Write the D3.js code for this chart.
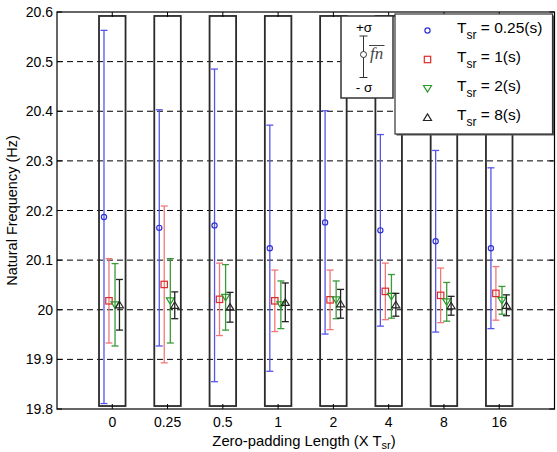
<!DOCTYPE html>
<html>
<head>
<meta charset="utf-8">
<script src="https://cdn.jsdelivr.net/npm/d3@7"></script>
<style>
  body { margin: 0; background: #fff; }
  svg { font-family: "Liberation Sans", Arial, sans-serif; }
</style>
</head>
<body>
<svg id="chart" width="557" height="452"></svg>
<script>
// categories on the x axis
const categories = ["0", "0.25", "0.5", "1", "2", "4", "8", "16"];
const yTicks = [19.8, 19.9, 20, 20.1, 20.2, 20.3, 20.4, 20.5, 20.6];

// series: mean and std per category
const seriesNames = ["0.25", "1", "2", "8"];
const blueMean  = [20.187, 20.165, 20.170, 20.124, 20.176, 20.160, 20.138, 20.124];
const blueStd   = [0.376, 0.238, 0.315, 0.248, 0.225, 0.193, 0.183, 0.162];
const redMean   = [20.018, 20.051, 20.021, 20.018, 20.020, 20.037, 20.029, 20.033];
const redStd    = [0.085, 0.158, 0.073, 0.062, 0.060, 0.057, 0.055, 0.054];
const greenMean = [20.010, 20.018, 20.025, 20.010, 20.020, 20.027, 20.016, 20.019];
const greenStd  = [0.083, 0.085, 0.066, 0.048, 0.038, 0.044, 0.039, 0.028];
const blackMean = [20.010, 20.009, 20.005, 20.015, 20.012, 20.010, 20.008, 20.009];
const blackStd  = [0.051, 0.027, 0.030, 0.039, 0.029, 0.023, 0.019, 0.021];

// group box extent (data units)
const boxLow = 19.806, boxHigh = 20.592;

const mLeft = 57, mRight = 554.5, mTop = 12, mBottom = 409;
const svg = d3.select("#chart");

const x = d3.scaleLinear().domain([0, categories.length + 1]).range([mLeft, mRight]);
const y = d3.scaleLinear().domain([19.8, 20.6]).range([mBottom, mTop]);

// grid
svg.append("g")
  .selectAll("line")
  .data(yTicks.slice(1, -1)).enter()
  .append("line")
  .attr("x1", mLeft).attr("x2", mRight)
  .attr("y1", d => y(d)).attr("y2", d => y(d))
  .attr("stroke", "#000")
  .attr("stroke-width", 1)
  .attr("stroke-dasharray", "6,4");

// group boxes
svg.append("g")
  .selectAll("rect")
  .data(categories).enter()
  .append("rect")
  .attr("x", (d, i) => x(i + 1 - 0.24))
  .attr("width", x(0.48) - x(0))
  .attr("y", y(boxHigh))
  .attr("height", y(boxLow) - y(boxHigh))
  .attr("fill", "none")
  .attr("stroke", "#2a2a2a")
  .attr("stroke-width", 1.8);

// series
const series = [
  { mean: blueMean,  std: blueStd,  off: -0.15, line: "#5555e8", mark: "#3030d8", shape: "circle" },
  { mean: redMean,   std: redStd,   off: -0.06, line: "#f07878", mark: "#e02828", shape: "square" },
  { mean: greenMean, std: greenStd, off: 0.05,  line: "#3a9a3a", mark: "#2a9a2a", shape: "down" },
  { mean: blackMean, std: blackStd, off: 0.13,  line: "#222",    mark: "#222",    shape: "up" }
];

function drawMarker(g, shape, cx, cy, color) {
  if (shape === "circle") {
    g.append("circle").attr("cx", cx).attr("cy", cy).attr("r", 2.6)
      .attr("fill", "none").attr("stroke", color).attr("stroke-width", 1.2);
  } else if (shape === "square") {
    g.append("rect").attr("x", cx - 3.2).attr("y", cy - 3.2).attr("width", 6.4).attr("height", 6.4)
      .attr("fill", "none").attr("stroke", color).attr("stroke-width", 1.2);
  } else if (shape === "down") {
    g.append("path").attr("d", `M${cx - 4},${cy - 3}L${cx + 4},${cy - 3}L${cx},${cy + 3.5}Z`)
      .attr("fill", "none").attr("stroke", color).attr("stroke-width", 1.2);
  } else {
    g.append("path").attr("d", `M${cx - 4},${cy + 3}L${cx + 4},${cy + 3}L${cx},${cy - 3.5}Z`)
      .attr("fill", "none").attr("stroke", color).attr("stroke-width", 1.2);
  }
}

series.forEach(s => {
  const g = svg.append("g");
  categories.forEach((c, i) => {
    const cx = x(i + 1 + s.off);
    const hi = y(s.mean[i] + s.std[i]), lo = y(s.mean[i] - s.std[i]);
    g.append("line").attr("x1", cx).attr("x2", cx).attr("y1", hi).attr("y2", lo)
      .attr("stroke", s.line).attr("stroke-width", 1.3);
    [hi, lo].forEach(yy => g.append("line")
      .attr("x1", cx - 3.5).attr("x2", cx + 3.5).attr("y1", yy).attr("y2", yy)
      .attr("stroke", s.line).attr("stroke-width", 1.3));
    drawMarker(g, s.shape, cx, y(s.mean[i]), s.mark);
  });
});

// axes frame
svg.append("rect")
  .attr("x", mLeft).attr("y", mTop)
  .attr("width", mRight - mLeft).attr("height", mBottom - mTop)
  .attr("fill", "none").attr("stroke", "#000").attr("stroke-width", 1.2);

// x ticks (bottom and top, inward)
const xt = svg.append("g");
categories.forEach((c, i) => {
  const px = x(i + 1);
  xt.append("line").attr("x1", px).attr("x2", px).attr("y1", mBottom).attr("y2", mBottom - 5).attr("stroke", "#000");
  xt.append("line").attr("x1", px).attr("x2", px).attr("y1", mTop).attr("y2", mTop + 5).attr("stroke", "#000");
  xt.append("text").attr("x", px).attr("y", mBottom + 18)
    .attr("text-anchor", "middle").attr("font-size", 14).text(c);
});

// y ticks
const yt = svg.append("g");
yTicks.forEach(v => {
  yt.append("line").attr("x1", mLeft).attr("x2", mLeft + 5).attr("y1", y(v)).attr("y2", y(v)).attr("stroke", "#000");
  yt.append("line").attr("x1", mRight).attr("x2", mRight - 5).attr("y1", y(v)).attr("y2", y(v)).attr("stroke", "#000");
  yt.append("text").attr("x", mLeft - 4).attr("y", y(v) + 5)
    .attr("text-anchor", "end").attr("font-size", 14).text(d3.format(".1f")(v).replace(/\.0$/, ""));
});

// axis labels
svg.append("text")
  .attr("transform", `translate(17,${(mTop + mBottom) / 2}) rotate(-90)`)
  .attr("text-anchor", "middle").attr("font-size", 14.5)
  .text("Natural Frequency (Hz)");

const xl = svg.append("text")
  .attr("x", 304).attr("y", 446)
  .attr("text-anchor", "middle").attr("font-size", 14.8);
xl.append("tspan").text("Zero-padding Length (X T");
xl.append("tspan").attr("font-size", 11).attr("dy", 3).text("sr");
xl.append("tspan").attr("dy", -3).text(")");

// sigma legend
const sl = svg.append("g");
sl.append("rect").attr("x", 341).attr("y", 16).attr("width", 52).attr("height", 82)
  .attr("fill", "#fff").attr("stroke", "#333").attr("stroke-width", 1.5);
sl.append("line").attr("x1", 363.5).attr("x2", 363.5).attr("y1", 36).attr("y2", 77.5).attr("stroke", "#333");
sl.append("line").attr("x1", 359.5).attr("x2", 367.5).attr("y1", 36).attr("y2", 36).attr("stroke", "#333");
sl.append("line").attr("x1", 359.5).attr("x2", 367.5).attr("y1", 77.5).attr("y2", 77.5).attr("stroke", "#333");
sl.append("circle").attr("cx", 363.5).attr("cy", 54.5).attr("r", 3).attr("fill", "#fff").attr("stroke", "#333");
sl.append("text").attr("x", 364).attr("y", 32).attr("text-anchor", "middle").attr("font-size", 13.5).text("+σ");
sl.append("text").attr("x", 364).attr("y", 92).attr("text-anchor", "middle").attr("font-size", 13.5).text("- σ");
sl.append("text").attr("x", 370).attr("y", 59).attr("font-size", 17)
  .attr("font-family", "'Liberation Serif', serif").attr("font-style", "italic").attr("fill", "#444").text("fn");
sl.append("line").attr("x1", 369).attr("x2", 384.5).attr("y1", 45.5).attr("y2", 45.5).attr("stroke", "#444");

// series legend
const lg = svg.append("g");
lg.append("rect").attr("x", 396.5).attr("y", 15.5).attr("width", 157.5).attr("height", 120).attr("fill", "#555");
lg.append("rect").attr("x", 395).attr("y", 14).attr("width", 157.5).attr("height", 120)
  .attr("fill", "#fff").attr("stroke", "#333").attr("stroke-width", 1.2);
seriesNames.forEach((n, i) => {
  const ry = 30.5 + i * 29;
  drawMarker(lg, series[i].shape, 427.5, ry, series[i].mark);
  const t = lg.append("text").attr("x", 457).attr("y", ry + 2).attr("font-size", 15.5);
  t.append("tspan").text("T");
  t.append("tspan").attr("font-size", 12).attr("dy", 6).text("sr");
  t.append("tspan").attr("dy", -6).text(" = " + n + "(s)");
});
</script>
</body>
</html>
